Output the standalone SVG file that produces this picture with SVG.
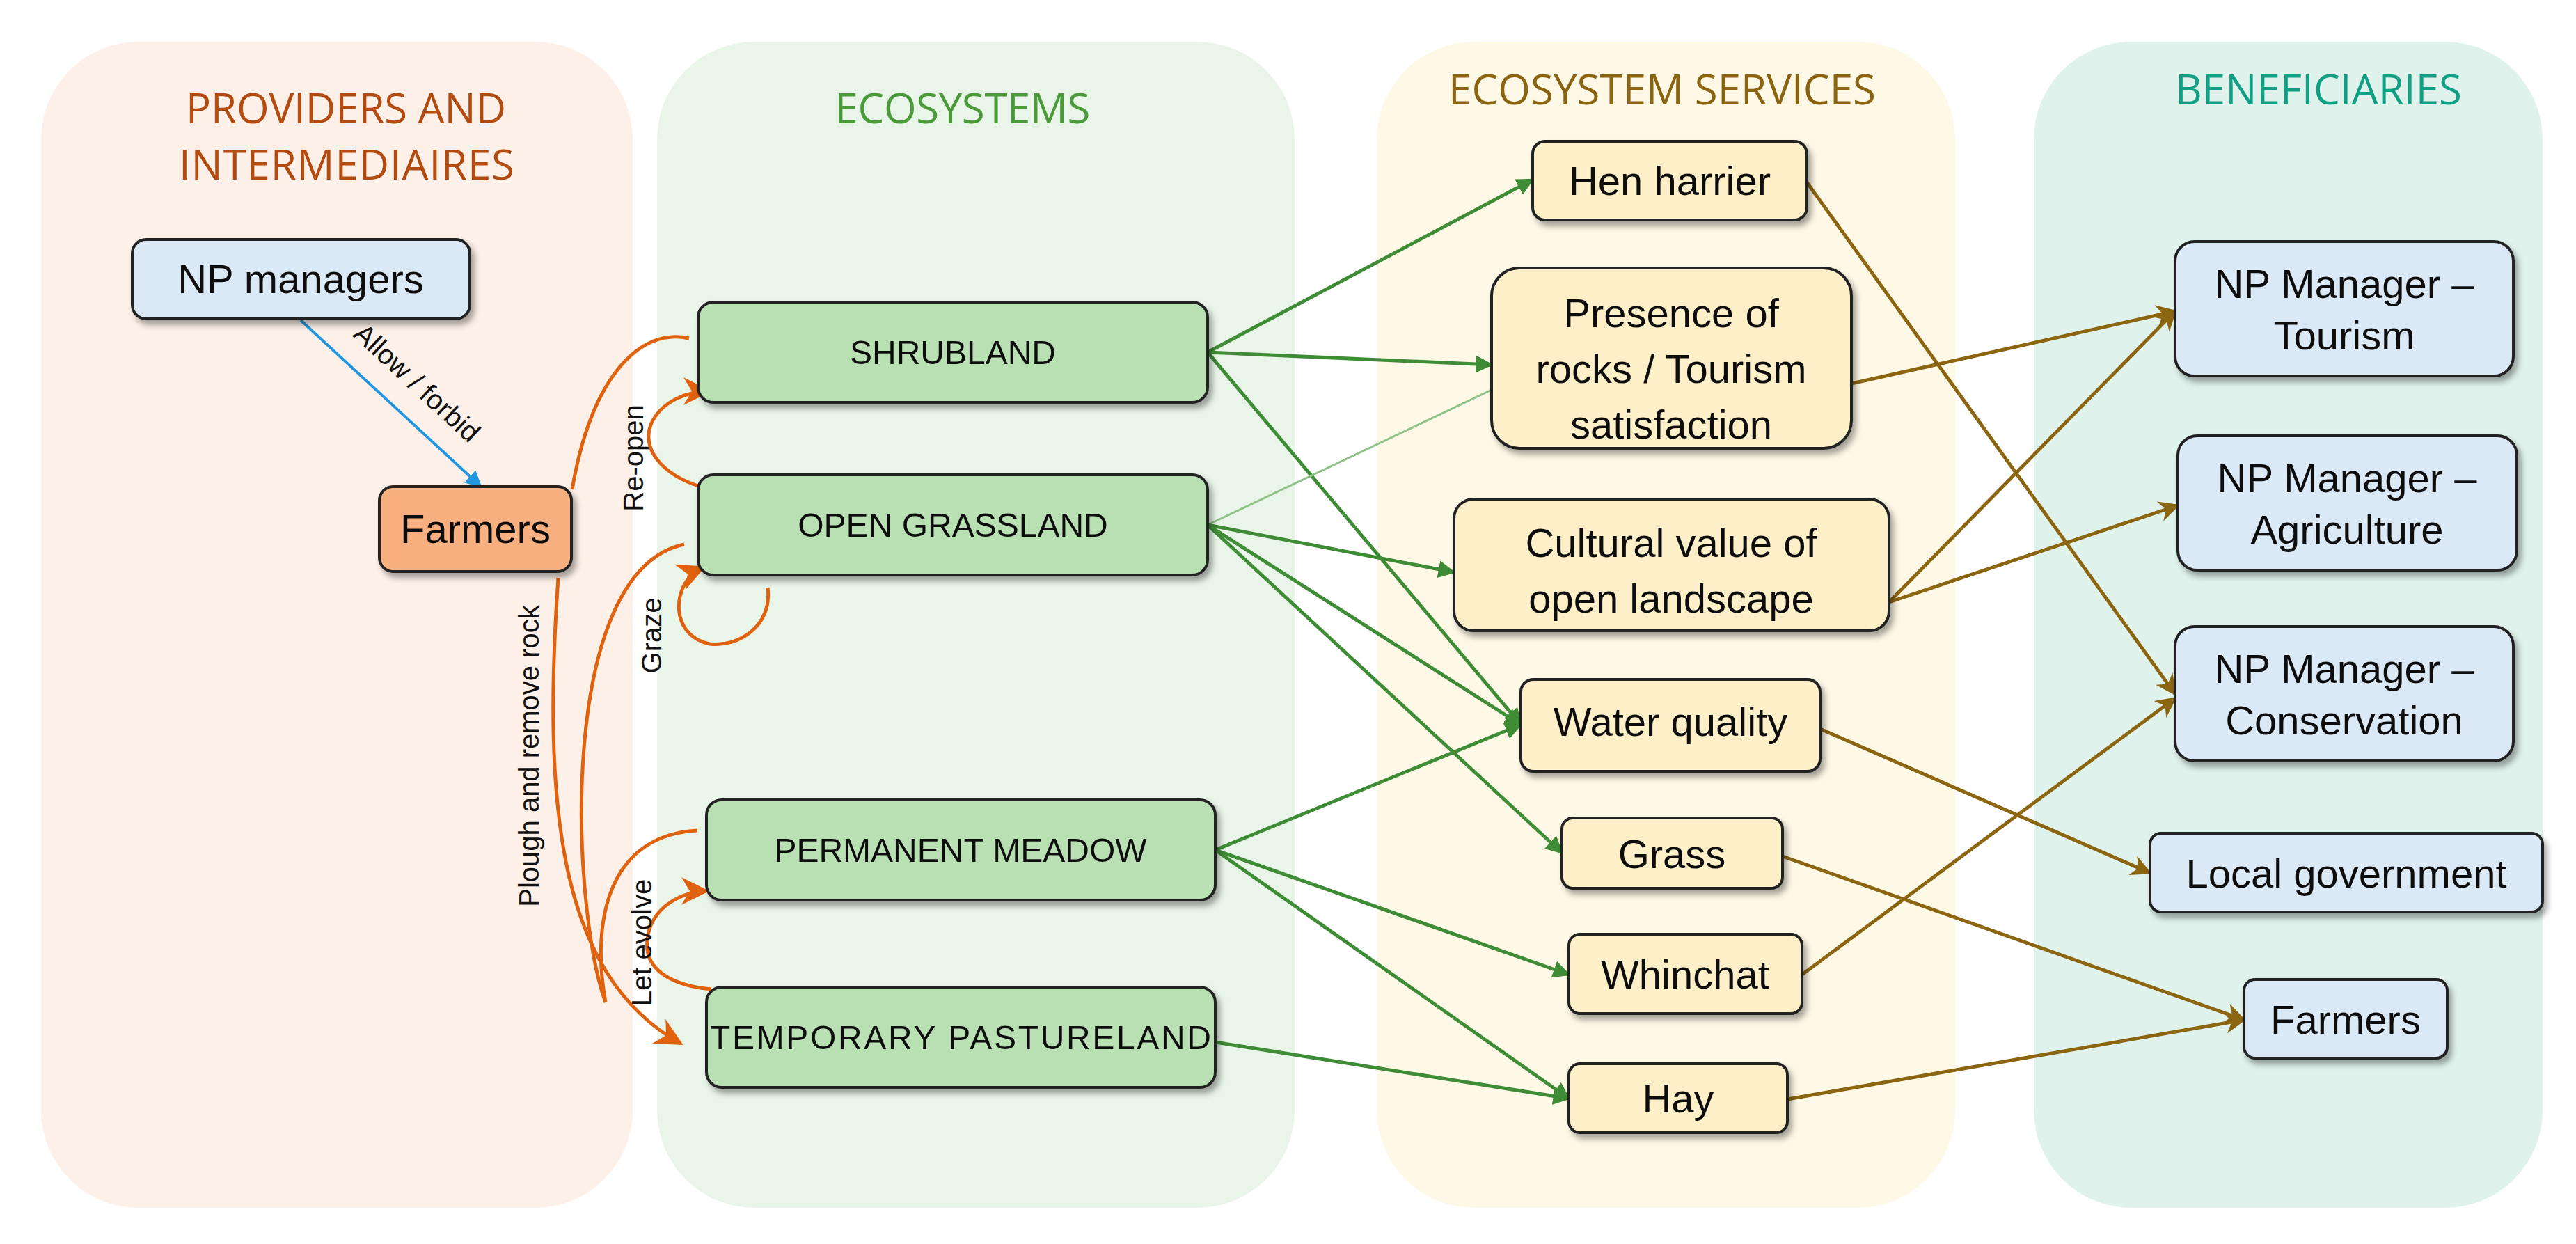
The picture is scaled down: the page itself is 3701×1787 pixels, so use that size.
<svg xmlns="http://www.w3.org/2000/svg" width="3701" height="1787" viewBox="0 0 3701 1787">
<style>
.t{font-family:"Liberation Sans",Arial,sans-serif;fill:#111;text-anchor:middle}
.n{font-size:58px}
.e{font-size:48px}
.h{font-family:"Open Sans","Liberation Sans",sans-serif;font-size:60px;text-anchor:middle}
.l{font-family:"Liberation Sans",Arial,sans-serif;font-size:40px;fill:#111;text-anchor:middle}
.b{stroke:#222;stroke-width:4}
.g{fill:none;stroke:#3f8c36;stroke-width:5;marker-end:url(#ag)}
.br{fill:none;stroke:#8c6510;stroke-width:5;marker-end:url(#ab)}
.o{fill:none;stroke:#e0620f;stroke-width:5}
</style>
<defs>
<filter id="sh" x="-10%" y="-10%" width="130%" height="140%"><feDropShadow dx="5" dy="7" stdDeviation="4" flood-color="#000" flood-opacity="0.35"/></filter>
<marker id="ag" viewBox="0 0 10 10" refX="9" refY="5" markerWidth="5" markerHeight="5" orient="auto" markerUnits="strokeWidth"><path d="M0,0 L10,5 L0,10 z" fill="#3f8c36"/></marker>
<marker id="ab" viewBox="0 0 10 10" refX="9" refY="5" markerWidth="6" markerHeight="6" orient="auto" markerUnits="strokeWidth"><path d="M0,0 L10,5 L0,10 L3,5 z" fill="#8c6510"/></marker>
<marker id="ao" viewBox="0 0 10 10" refX="9" refY="5" markerWidth="8" markerHeight="8" orient="auto" markerUnits="strokeWidth"><path d="M0,0 L10,5 L0,10 L3,5 z" fill="#e0620f"/></marker>
<marker id="abl" viewBox="0 0 10 10" refX="9" refY="5" markerWidth="6" markerHeight="6" orient="auto" markerUnits="strokeWidth"><path d="M0,0 L10,5 L0,10 z" fill="#2196e0"/></marker>
</defs>
<rect width="3701" height="1787" fill="#fff"/>
<g id="panels">
<rect x="59" y="60" width="850" height="1675" rx="140" fill="#fdf0e8"/>
<rect x="944" y="60" width="916" height="1675" rx="140" fill="#eaf5e9"/>
<rect x="1978" y="60" width="831" height="1675" rx="140" fill="#fef8e6"/>
<rect x="2922" y="60" width="731" height="1675" rx="140" fill="#e0f2ec"/>
<text class="h" x="497" y="177" fill="#b34a0f" textLength="460">PROVIDERS AND</text>
<text class="h" x="498" y="258" fill="#b34a0f" textLength="482">INTERMEDIAIRES</text>
<text class="h" x="1383" y="177" fill="#4a9a3a" textLength="367">ECOSYSTEMS</text>
<text class="h" x="2388" y="150" fill="#8a6410" textLength="614">ECOSYSTEM SERVICES</text>
<text class="h" x="3331" y="150" fill="#12a084" textLength="412">BENEFICIARIES</text>
</g>
<g id="connectors">
<path d="M432,460 L691,699" fill="none" stroke="#2196e0" stroke-width="4" marker-end="url(#abl)"/>
<text class="l" transform="translate(590,560) rotate(42.7)">Allow / forbid</text>
<path class="o" d="M822,703 C850,540 920,470 990,486"/>
<path class="o" d="M1023,703 C960,690 920,650 935,610 C950,575 990,562 1018,562" marker-end="url(#ao)"/>
<path class="o" d="M1103,844 C1110,900 1060,930 1020,925 C970,915 965,860 990,830 C995,822 1003,818 1010,815" marker-end="url(#ao)"/>
<path class="o" d="M870,1440 C820,1300 800,820 983,782"/>
<path class="o" d="M870,1440 C850,1330 870,1200 1002,1193"/>
<path class="o" d="M1022,1421 C960,1415 925,1390 930,1350 C935,1300 985,1280 1015,1280" marker-end="url(#ao)"/>
<path class="o" d="M802,830 C780,1150 800,1400 978,1499" marker-end="url(#ao)"/>
<text class="l" transform="translate(924,658) rotate(-90)">Re-open</text>
<text class="l" transform="translate(950,913) rotate(-90)">Graze</text>
<text class="l" transform="translate(936,1354) rotate(-90)">Let evolve</text>
<text class="l" transform="translate(774,1086) rotate(-90)">Plough and remove rock</text>
<path class="g" d="M1735,506 L2202,258"/>
<path class="g" d="M1735,506 L2143,524"/>
<path class="g" d="M1735,506 L2185,1041"/>
<path d="M1735,754 L2143,560" fill="none" stroke="#8fc287" stroke-width="3"/>
<path class="g" d="M1735,754 L2089,822"/>
<path class="g" d="M1735,754 L2185,1041"/>
<path class="g" d="M1735,754 L2244,1225"/>
<path class="g" d="M1746,1221 L2185,1041"/>
<path class="g" d="M1746,1221 L2254,1400"/>
<path class="g" d="M1746,1221 L2254,1578"/>
<path class="g" d="M1746,1497 L2254,1578"/>
<path class="br" d="M2596,262 L3125,997"/>
<path class="br" d="M2660,551 L3125,447"/>
<path class="br" d="M2714,865 L3125,447"/>
<path class="br" d="M2714,865 L3129,726"/>
<path class="br" d="M2615,1047 L3089,1254"/>
<path class="br" d="M2561,1230 L3224,1465"/>
<path class="br" d="M2589,1400 L3125,1003"/>
<path class="br" d="M2568,1579 L3224,1465"/>
</g>
<g id="np-managers" filter="url(#sh)"><rect class="b" x="190" y="344" width="485" height="114" rx="20" fill="#dbe9f6"/><text class="t n" x="432" y="421">NP managers</text></g>
<g id="farmers" filter="url(#sh)"><rect class="b" x="545" y="699" width="276" height="122" rx="20" fill="#f9b080"/><text class="t n" x="683" y="780">Farmers</text></g>
<g id="shrubland" filter="url(#sh)"><rect class="b" x="1003" y="434" width="732" height="144" rx="22" fill="#b9e0b3"/><text class="t e" x="1369" y="523">SHRUBLAND</text></g>
<g id="open-grassland" filter="url(#sh)"><rect class="b" x="1003" y="682" width="732" height="144" rx="22" fill="#b9e0b3"/><text class="t e" x="1369" y="771">OPEN GRASSLAND</text></g>
<g id="permanent-meadow" filter="url(#sh)"><rect class="b" x="1015" y="1149" width="731" height="144" rx="22" fill="#b9e0b3"/><text class="t e" x="1380" y="1238">PERMANENT MEADOW</text></g>
<g id="temporary-pastureland" filter="url(#sh)"><rect class="b" x="1015" y="1418" width="731" height="144" rx="22" fill="#b9e0b3"/><text class="t e" x="1380" y="1507" textLength="720">TEMPORARY PASTURELAND</text></g>
<g id="hen-harrier" filter="url(#sh)"><rect class="b" x="2202" y="203" width="394" height="113" rx="18" fill="#fdefc8"/><text class="t n" x="2399" y="280">Hen harrier</text></g>
<g id="presence-of-rocks" filter="url(#sh)"><rect class="b" x="2143" y="385" width="517" height="259" rx="40" fill="#fdefc8"/><text class="t n" x="2401" y="470">Presence of</text><text class="t n" x="2401" y="550">rocks / Tourism</text><text class="t n" x="2401" y="630">satisfaction</text></g>
<g id="cultural-value" filter="url(#sh)"><rect class="b" x="2089" y="717" width="625" height="189" rx="28" fill="#fdefc8"/><text class="t n" x="2401" y="800">Cultural value of</text><text class="t n" x="2401" y="880">open landscape</text></g>
<g id="water-quality" filter="url(#sh)"><rect class="b" x="2185" y="976" width="430" height="132" rx="18" fill="#fdefc8"/><text class="t n" x="2400" y="1057">Water quality</text></g>
<g id="grass" filter="url(#sh)"><rect class="b" x="2244" y="1175" width="317" height="101" rx="16" fill="#fdefc8"/><text class="t n" x="2402" y="1247">Grass</text></g>
<g id="whinchat" filter="url(#sh)"><rect class="b" x="2254" y="1342" width="335" height="114" rx="16" fill="#fdefc8"/><text class="t n" x="2421" y="1420">Whinchat</text></g>
<g id="hay" filter="url(#sh)"><rect class="b" x="2254" y="1528" width="314" height="99" rx="16" fill="#fdefc8"/><text class="t n" x="2411" y="1598">Hay</text></g>
<g id="np-tourism" filter="url(#sh)"><rect class="b" x="3125" y="347" width="486" height="193" rx="28" fill="#dbe9f6"/><text class="t n" x="3368" y="428">NP Manager –</text><text class="t n" x="3368" y="502">Tourism</text></g>
<g id="np-agriculture" filter="url(#sh)"><rect class="b" x="3129" y="626" width="487" height="193" rx="28" fill="#dbe9f6"/><text class="t n" x="3372" y="707">NP Manager –</text><text class="t n" x="3372" y="781">Agriculture</text></g>
<g id="np-conservation" filter="url(#sh)"><rect class="b" x="3125" y="900" width="486" height="193" rx="28" fill="#dbe9f6"/><text class="t n" x="3368" y="981">NP Manager –</text><text class="t n" x="3368" y="1055">Conservation</text></g>
<g id="local-government" filter="url(#sh)"><rect class="b" x="3089" y="1197" width="564" height="113" rx="16" fill="#dbe9f6"/><text class="t n" x="3371" y="1275">Local government</text></g>
<g id="farmers-beneficiary" filter="url(#sh)"><rect class="b" x="3224" y="1407" width="292" height="113" rx="16" fill="#dbe9f6"/><text class="t n" x="3370" y="1485">Farmers</text></g>
</svg>
